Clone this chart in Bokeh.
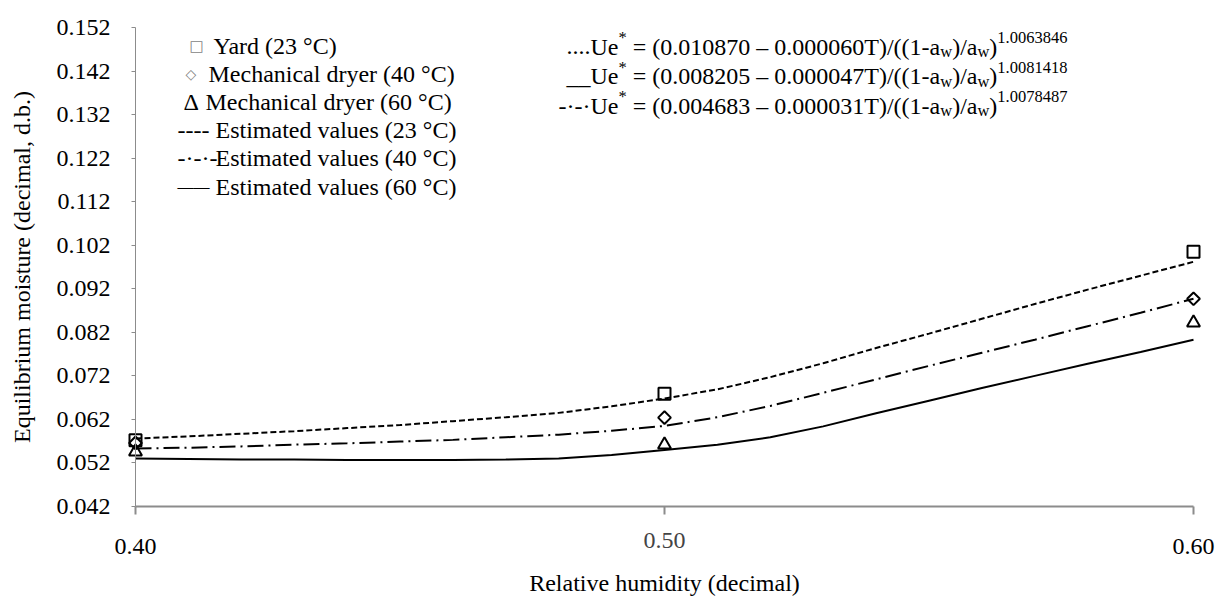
import numpy as np
from bokeh.plotting import figure
from bokeh.models import Range1d, FixedTicker, NumeralTickFormatter, Label
from bokeh.embed import file_html
from bokeh.resources import INLINE

# ---------------- data ----------------
x_obs = [0.40, 0.50, 0.60]
yard_23 = [0.0572, 0.0679, 0.1005]
dryer_40 = [0.0566, 0.0624, 0.0897]
dryer_60 = [0.0546, 0.0562, 0.0842]

x_est = [0.40, 0.41, 0.42, 0.43, 0.44, 0.45, 0.46, 0.47, 0.48, 0.49, 0.50,
         0.51, 0.52, 0.53, 0.54, 0.55, 0.56, 0.57, 0.58, 0.59, 0.60]
est_23 = [0.0576, 0.0581, 0.0587, 0.0593, 0.0600, 0.0607, 0.0616, 0.0625, 0.0635, 0.0650, 0.0668,
          0.0689, 0.0717, 0.0749, 0.0784, 0.0817, 0.0851, 0.0885, 0.0918, 0.0950, 0.0982]
est_40 = [0.0553, 0.0555, 0.0558, 0.0562, 0.0565, 0.0569, 0.0573, 0.0579, 0.0585, 0.0594, 0.0605,
          0.0625, 0.0651, 0.0681, 0.0712, 0.0743, 0.0773, 0.0803, 0.0834, 0.0865, 0.0897]
est_60 = [0.0530, 0.0529, 0.0528, 0.0528, 0.0527, 0.0527, 0.0527, 0.0528, 0.0530, 0.0538, 0.0550,
          0.0562, 0.0579, 0.0604, 0.0634, 0.0663, 0.0692, 0.0720, 0.0748, 0.0775, 0.0803]

x_ticks = [0.40, 0.50, 0.60]
y_ticks = [0.042, 0.052, 0.062, 0.072, 0.082, 0.092, 0.102, 0.112, 0.122, 0.132, 0.142, 0.152]

legend_symbols = ["\u25a1", "\u25c7", "\u0394", "----", "-\u00b7-\u00b7-", "\u2014\u2014"]
legend_texts = ["Yard (23 \u00b0C)", "Mechanical dryer (40 \u00b0C)", "Mechanical dryer (60 \u00b0C)",
                "Estimated values (23 \u00b0C)", "Estimated values (40 \u00b0C)", "Estimated values (60 \u00b0C)"]

eq_prefix = ["....", "__", "-\u00b7-\u00b7"]
eq_a = ["0.010870", "0.008205", "0.004683"]
eq_b = ["0.000060", "0.000047", "0.000031"]
eq_exp = ["1.0063846", "1.0081418", "1.0078487"]

# ---------------- layout ----------------
# The frame spans the whole canvas; both axes are fixed at data locations so
# every text lies inside the frame and nothing is clipped.
W, H = 1225, 599
AXL, AXR = 135, 1193        # pixel x of 0.40 / 0.60
AXT, AXB = 27, 506          # pixel y of 0.152 / 0.042
ppx = (AXR - AXL) / (x_ticks[-1] - x_ticks[0])
upp = (y_ticks[-1] - y_ticks[0]) / (AXB - AXT)
x_lo = x_ticks[0] - AXL / ppx
x_hi = x_ticks[-1] + (W - AXR) / ppx
y_lo = y_ticks[0] - (H - AXB) * upp
y_hi = y_ticks[-1] + AXT * upp

FONT = "Liberation Serif"
FS = 24
NB = "\u00a0"

p = figure(width=W, height=H, output_backend="svg", toolbar_location=None,
           x_range=Range1d(x_lo, x_hi), y_range=Range1d(y_lo, y_hi),
           min_border_left=0, min_border_right=0,
           min_border_top=0, min_border_bottom=0)
p.outline_line_color = None
p.grid.visible = False
p.background_fill_color = "white"
p.border_fill_color = "white"

AXC = "#8c8c8c"
xa = p.xaxis[0]
xa.fixed_location = y_ticks[0]
xa.bounds = (x_ticks[0], x_ticks[-1])
xa.ticker = FixedTicker(ticks=x_ticks)
xa.formatter = NumeralTickFormatter(format="0.00")
xa.major_label_overrides = {0.5: NB}
xa.axis_line_color = AXC
xa.axis_line_width = 2
xa.major_tick_line_color = AXC
xa.major_tick_line_width = 2
xa.major_tick_out = 8
xa.major_tick_in = 0
xa.minor_tick_line_color = None
xa.major_label_standoff = 18
xa.major_label_text_font = FONT
xa.major_label_text_font_size = f"{FS}px"
xa.major_label_text_color = "black"
xa.axis_label = "Relative humidity (decimal)"
xa.axis_label_text_font = FONT
xa.axis_label_text_font_size = f"{FS}px"
xa.axis_label_text_font_style = "normal"
xa.axis_label_text_color = "black"
xa.axis_label_standoff = 8

ya = p.yaxis[0]
ya.fixed_location = x_ticks[0]
ya.bounds = (y_ticks[0], y_ticks[-1])
ya.ticker = FixedTicker(ticks=y_ticks)
ya.formatter = NumeralTickFormatter(format="0.000")
ya.axis_line_color = AXC
ya.axis_line_width = 1
ya.major_tick_line_color = AXC
ya.major_tick_out = 4
ya.major_tick_in = 0
ya.minor_tick_line_color = None
ya.major_label_standoff = 21
ya.major_label_text_font = FONT
ya.major_label_text_font_size = f"{FS}px"
ya.major_label_text_color = "black"
ya.axis_label = "Equilibrium moisture (decimal, d.b.)"
ya.axis_label_text_font = FONT
ya.axis_label_text_font_size = f"{FS}px"
ya.axis_label_text_font_style = "normal"
ya.axis_label_text_color = "black"
ya.axis_label_standoff = 19

# ---------------- curves & points ----------------
p.line(x_est, est_23, line_color="black", line_width=2, line_dash="6 3")
p.line(x_est, est_40, line_color="black", line_width=2, line_dash="16 5 2 5")
p.line(x_est, est_60, line_color="black", line_width=2)

p.scatter(x_obs, yard_23, marker="square", size=12, fill_color=None,
          line_color="black", line_width=2)
p.scatter(x_obs, dryer_40, marker="square", angle=np.pi / 4, size=9,
          fill_color=None, line_color="black", line_width=2)
p.scatter(x_obs, dryer_60, marker="triangle", size=13, fill_color=None,
          line_color="black", line_width=2)

# ---------------- helpers for page-pixel placement ----------------
def sx(px):
    return px

def sy(py):
    return H - py

def lab(px, py, text, size=FS, color="black", align="left", font=FONT):
    p.add_layout(Label(x=sx(px), y=sy(py), x_units="screen", y_units="screen",
                       text=text.replace(" ", NB), text_font=font,
                       text_font_size=f"{size}px", text_color=color,
                       text_align=align, text_baseline="middle"))

# 0.50 tick label sits a little higher in the original
p.add_layout(Label(x=x_ticks[1], y=sy(540), x_units="data", y_units="screen",
                   text="0.50", text_font=FONT, text_font_size=f"{FS}px",
                   text_align="center", text_baseline="middle"))

# ---------------- legend (text box) ----------------
LEG_Y0, LEG_DY = 45.5, 28.1
sym_x = [189, 185, 183, 177, 177, 177]
txt_x = [213, 208, 205, 215, 215, 215]
sym_size = [15, 14, FS, FS, FS, 16]
sym_color = ["#7f7f7f", "#7f7f7f", "black", "black", "black", "black"]
sym_font = ["DejaVu Sans", "DejaVu Sans", FONT, FONT, FONT, FONT]
for i in range(6):
    y = LEG_Y0 + i * LEG_DY
    lab(sym_x[i], y, legend_symbols[i], size=sym_size[i], color=sym_color[i], font=sym_font[i])
    lab(txt_x[i], y, legend_texts[i])

# ---------------- equations ----------------
TW = {' ': 250, '.': 250, '_': 500, '-': 333, '\u00b7': 250, 'U': 722, 'e': 444, '*': 500,
      '=': 564, '(': 333, ')': 333, '\u2013': 500, 'T': 611, '/': 278, 'a': 444, 'w': 722}
for d in "0123456789":
    TW[d] = 500

def tw(s, size):
    return sum(TW.get(c, 500) for c in s) * size / 1000.0

EQ_X0 = 590
EQ_Y0, EQ_DY = 46, 29.5
SFS = 16.5
for i in range(3):
    y = EQ_Y0 + i * EQ_DY
    lab(EQ_X0, y, eq_prefix[i], align="right")
    segs = [("Ue", 0), ("*", 1),
            (" = (" + eq_a[i] + " \u2013 " + eq_b[i] + "T)/((1-a", 0), ("w", -1),
            (")/a", 0), ("w", -1), (")", 0), (eq_exp[i], 1)]
    x = EQ_X0
    for t, k in segs:
        size = FS if k == 0 else SFS
        dy = {0: 0, 1: -9, -1: 5}[k]
        lab(x, y + dy, t, size=size)
        x += tw(t, size)

open("out.html", "w").write(file_html(p, INLINE))
